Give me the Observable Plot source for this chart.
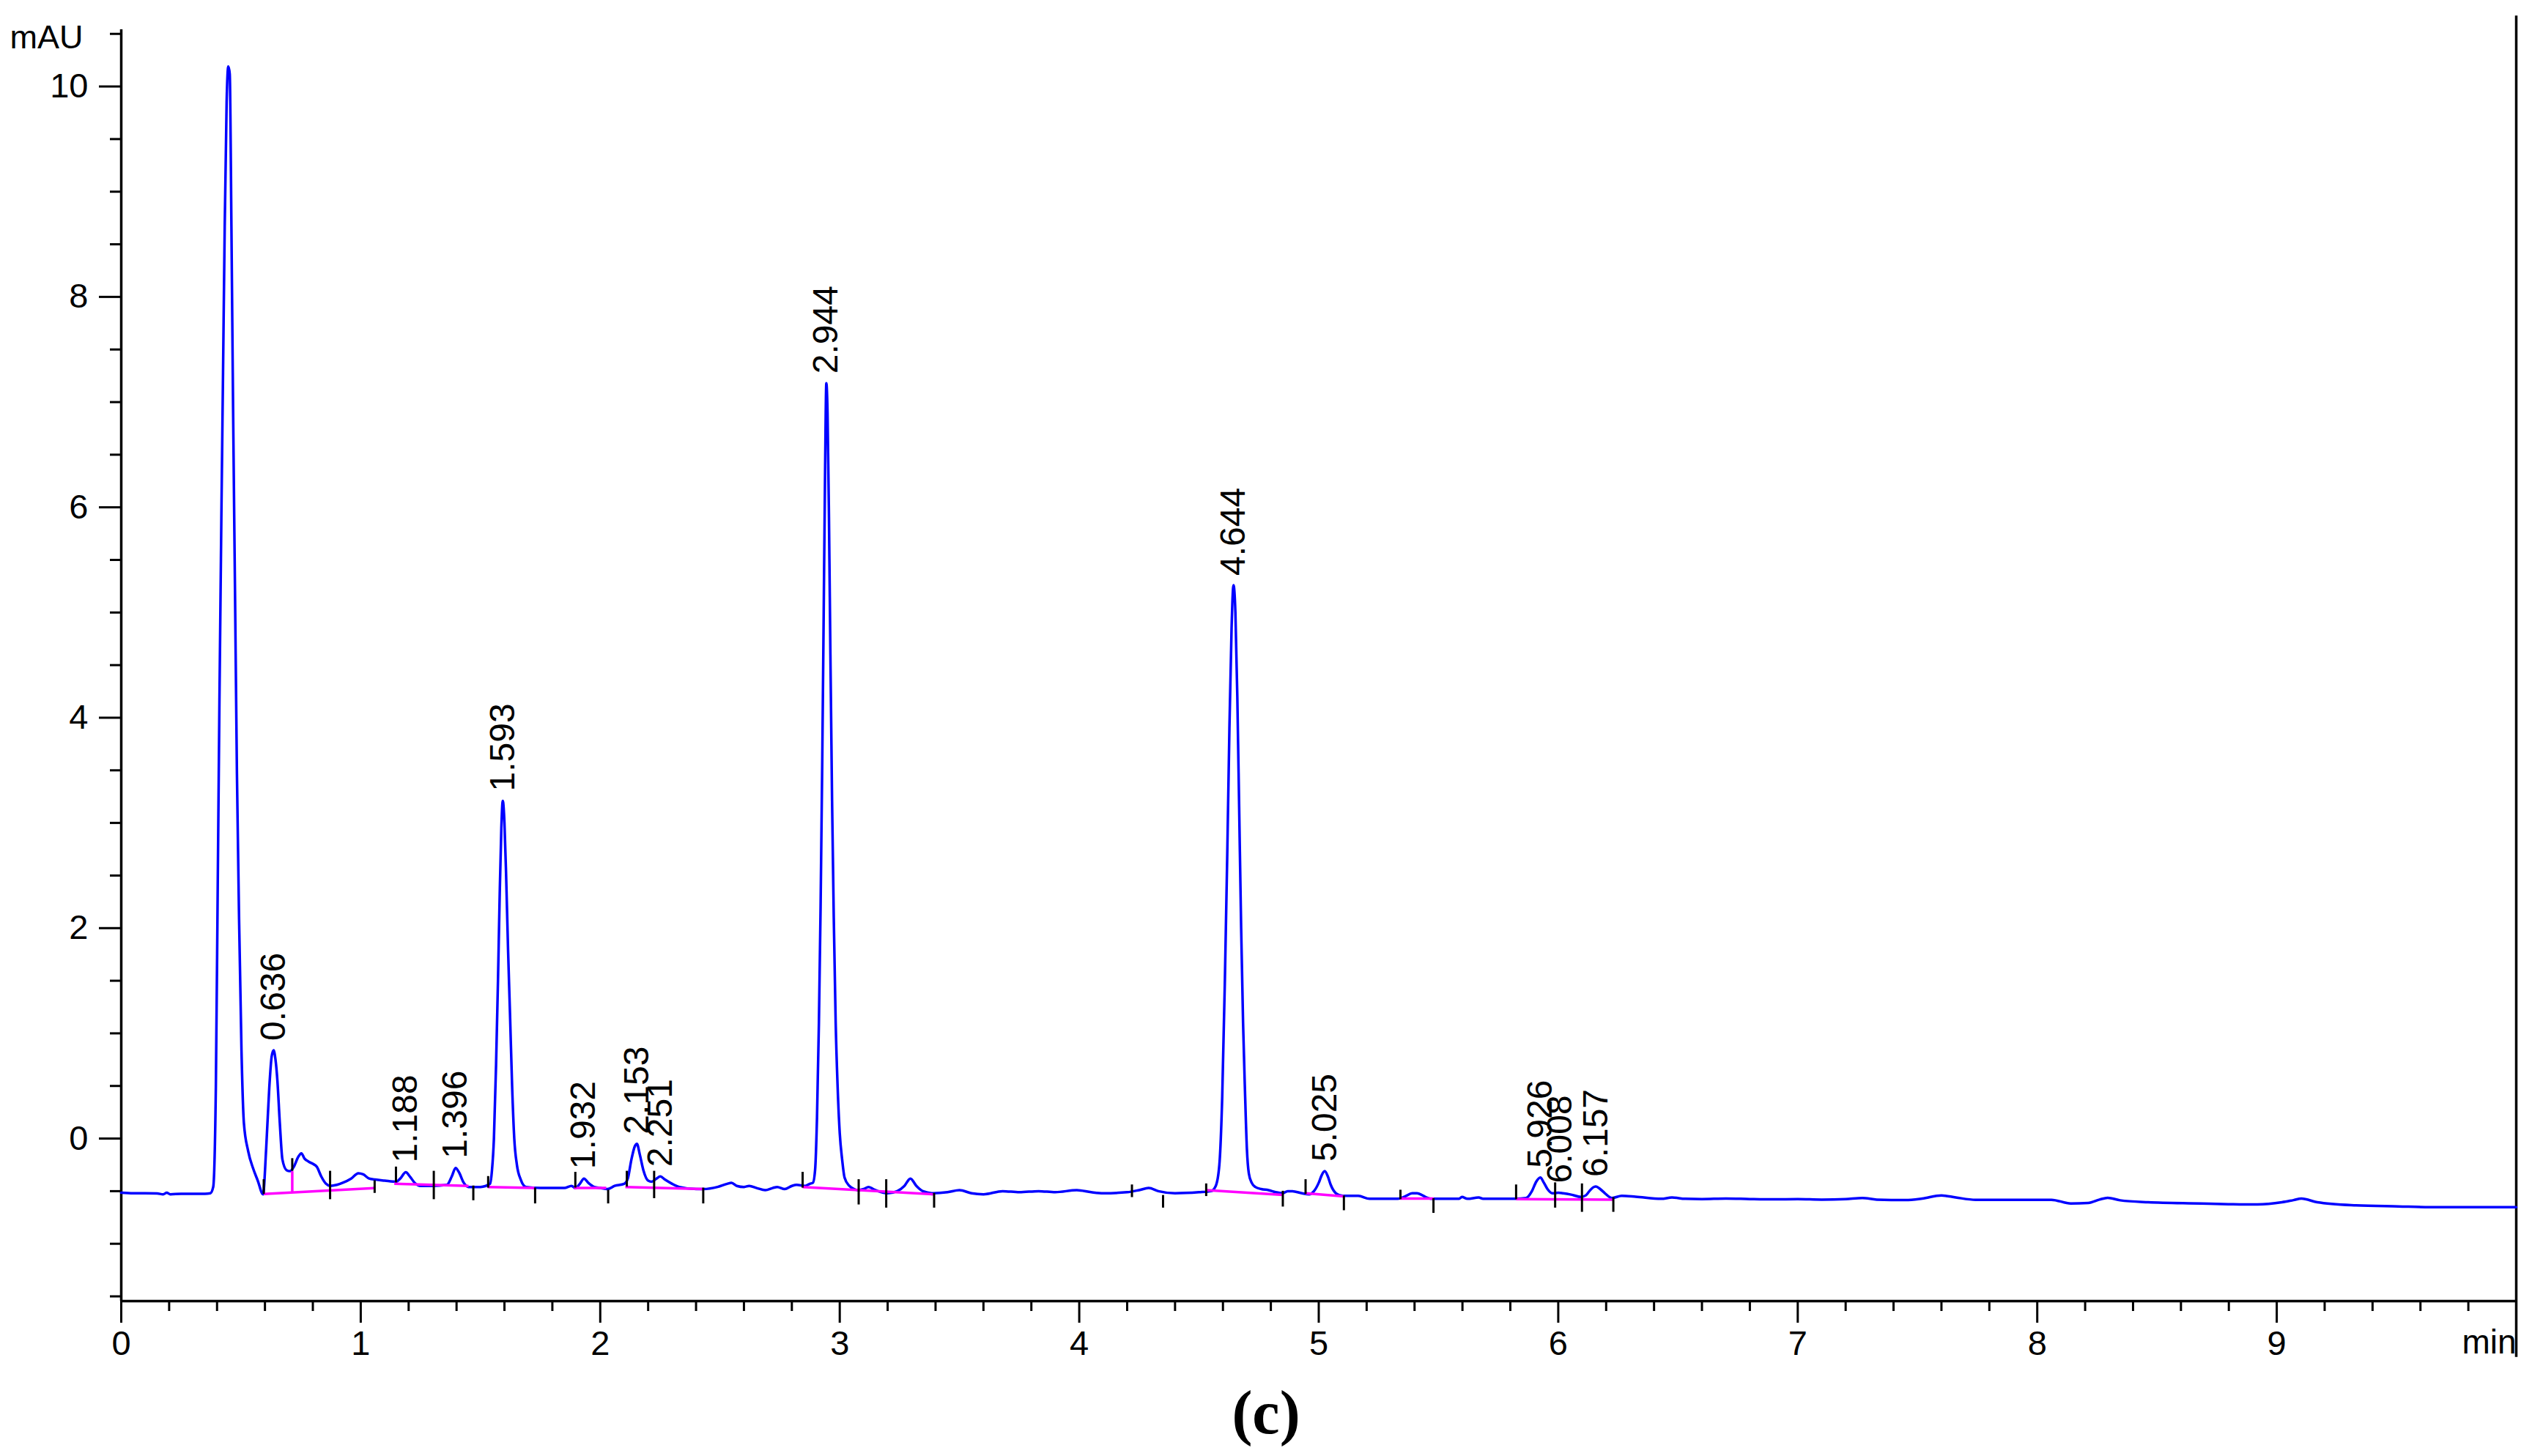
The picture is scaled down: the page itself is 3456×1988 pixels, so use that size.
<!DOCTYPE html>
<html><head><meta charset="utf-8">
<script src="https://cdn.jsdelivr.net/npm/d3@7"></script>
<script src="https://cdn.jsdelivr.net/npm/@observablehq/plot@0.6"></script>
<style>
html,body{margin:0;padding:0;background:#fff;}
#chart{width:3456px;height:1870px;}
#caption{width:3456px;height:118px;line-height:118px;text-align:center;font-family:"Liberation Serif","Times New Roman",serif;font-weight:bold;font-size:84px;color:#000;}
</style></head><body>
<div id="chart"></div>
<div id="caption">(c)</div>
<script>
// Chromatogram trace (time in min, signal in mAU)
const traceTime = [0,0.05,0.1,0.15,0.175,0.19,0.205,0.25,0.3,0.35,0.372,0.384,0.395,0.403,0.41,0.418,0.425,0.432,0.44,0.447,0.453,0.46,0.467,0.475,0.483,0.492,0.502,0.512,0.53,0.55,0.57,0.592,0.605,0.618,0.628,0.636,0.644,0.652,0.662,0.673,0.69,0.705,0.72,0.74,0.752,0.765,0.783,0.8,0.817,0.835,0.855,0.872,0.9,0.925,0.96,0.99,1.01,1.035,1.06,1.1,1.147,1.165,1.188,1.205,1.225,1.25,1.3,1.36,1.38,1.396,1.41,1.43,1.45,1.5,1.54,1.548,1.556,1.565,1.573,1.58,1.587,1.593,1.6,1.607,1.615,1.623,1.632,1.641,1.652,1.668,1.69,1.75,1.85,1.88,1.896,1.915,1.932,1.95,1.975,2.0,2.03,2.06,2.1,2.115,2.13,2.145,2.153,2.165,2.18,2.2,2.215,2.235,2.251,2.27,2.3,2.33,2.4,2.43,2.49,2.53,2.548,2.57,2.6,2.622,2.653,2.689,2.72,2.739,2.77,2.8,2.82,2.856,2.875,2.888,2.897,2.905,2.913,2.92,2.927,2.933,2.939,2.944,2.949,2.955,2.961,2.968,2.975,2.983,2.991,3.0,3.01,3.02,3.04,3.06,3.075,3.1,3.12,3.14,3.16,3.2,3.24,3.27,3.295,3.32,3.347,3.39,3.45,3.5,3.55,3.6,3.68,3.75,3.83,3.9,3.99,4.05,4.1,4.2,4.25,4.29,4.33,4.4,4.5,4.55,4.57,4.585,4.597,4.608,4.618,4.627,4.636,4.644,4.652,4.66,4.668,4.676,4.684,4.692,4.7,4.708,4.72,4.735,4.76,4.79,4.82,4.85,4.87,4.89,4.93,4.96,4.98,5.0,5.012,5.025,5.038,5.05,5.072,5.1,5.165,5.212,5.33,5.36,5.39,5.41,5.446,5.469,5.586,5.598,5.621,5.668,5.686,5.82,5.866,5.89,5.908,5.925,5.94,5.955,5.975,6.0,6.02,6.054,6.095,6.115,6.13,6.145,6.157,6.175,6.195,6.224,6.265,6.323,6.43,6.475,6.53,6.6,6.7,6.8,6.9,7.0,7.1,7.2,7.27,7.33,7.45,7.52,7.6,7.66,7.743,8.059,8.14,8.213,8.26,8.294,8.346,8.463,8.684,8.772,8.919,9.022,9.07,9.103,9.169,9.331,9.507,9.64,10.0];
const traceMAU = [-0.515,-0.52,-0.52,-0.522,-0.53,-0.515,-0.53,-0.525,-0.525,-0.525,-0.52,-0.46,0.49,2.44,4.17,5.9,7.28,8.67,9.85,10.19,10.12,8.67,6.93,5.2,3.47,2.08,0.84,0.15,-0.12,-0.28,-0.4,-0.53,-0.1,0.48,0.78,0.84,0.75,0.55,0.15,-0.2,-0.3,-0.31,-0.27,-0.17,-0.14,-0.19,-0.22,-0.24,-0.27,-0.36,-0.43,-0.45,-0.44,-0.42,-0.38,-0.33,-0.34,-0.38,-0.39,-0.4,-0.41,-0.38,-0.32,-0.36,-0.42,-0.45,-0.45,-0.44,-0.36,-0.28,-0.32,-0.42,-0.46,-0.46,-0.43,-0.3,0.0,0.7,1.5,2.3,2.95,3.21,3.0,2.5,1.8,1.2,0.5,0.0,-0.25,-0.39,-0.46,-0.47,-0.47,-0.45,-0.47,-0.43,-0.38,-0.42,-0.46,-0.47,-0.48,-0.45,-0.43,-0.38,-0.2,-0.07,-0.05,-0.15,-0.3,-0.4,-0.41,-0.38,-0.36,-0.39,-0.43,-0.46,-0.48,-0.48,-0.46,-0.43,-0.42,-0.45,-0.46,-0.45,-0.47,-0.49,-0.47,-0.46,-0.48,-0.45,-0.44,-0.45,-0.43,-0.42,-0.3,0.2,1.1,2.2,3.6,5.0,6.4,7.18,6.9,5.9,4.6,3.2,2.1,1.1,0.5,0.05,-0.2,-0.37,-0.45,-0.48,-0.49,-0.48,-0.46,-0.48,-0.5,-0.52,-0.5,-0.45,-0.38,-0.45,-0.5,-0.52,-0.51,-0.49,-0.52,-0.53,-0.5,-0.51,-0.5,-0.51,-0.49,-0.51,-0.52,-0.51,-0.49,-0.47,-0.5,-0.52,-0.51,-0.5,-0.45,-0.25,0.4,1.5,2.7,3.9,4.85,5.26,5.0,4.2,3.1,2.0,1.1,0.45,-0.1,-0.33,-0.42,-0.46,-0.48,-0.49,-0.51,-0.52,-0.5,-0.5,-0.52,-0.53,-0.5,-0.42,-0.35,-0.31,-0.36,-0.44,-0.52,-0.545,-0.545,-0.573,-0.573,-0.55,-0.52,-0.52,-0.555,-0.573,-0.573,-0.555,-0.573,-0.56,-0.573,-0.573,-0.565,-0.5,-0.41,-0.37,-0.42,-0.48,-0.52,-0.515,-0.52,-0.533,-0.555,-0.54,-0.5,-0.465,-0.456,-0.48,-0.52,-0.565,-0.545,-0.553,-0.573,-0.56,-0.573,-0.575,-0.57,-0.575,-0.578,-0.575,-0.58,-0.575,-0.565,-0.58,-0.585,-0.57,-0.54,-0.56,-0.582,-0.582,-0.617,-0.612,-0.58,-0.563,-0.587,-0.605,-0.617,-0.622,-0.626,-0.605,-0.585,-0.571,-0.605,-0.635,-0.645,-0.652,-0.652];

// Labelled peaks: retention time and apex height
const peakTimes   = [0.636,1.188,1.396,1.593,1.932,2.153,2.251,2.944,4.644,5.025,5.926,6.008,6.157];
const peakLabels  = ["0.636","1.188","1.396","1.593","1.932","2.153","2.251","2.944","4.644","5.025","5.926","6.008","6.157"];
const peakHeights = [0.84,-0.32,-0.28,3.21,-0.38,-0.05,-0.36,7.18,5.26,-0.31,-0.37,-0.515,-0.456];

// Integration baselines (start time, start mAU, end time, end mAU)
const baseT1 = [0.595,0.714,1.14,1.53,1.89,2.105,2.845,4.53,4.945,5.34,5.824];
const baseV1 = [-0.527,-0.51,-0.43,-0.46,-0.47,-0.46,-0.46,-0.49,-0.52,-0.57,-0.575];
const baseT2 = [1.058,0.714,1.45,1.725,2.025,2.43,3.39,4.85,5.105,5.48,6.23];
const baseV2 = [-0.47,-0.31,-0.45,-0.47,-0.47,-0.48,-0.53,-0.535,-0.55,-0.57,-0.58];

// Peak start/end event marks (time, low mAU, high mAU)
const eventTime = [0.595,0.714,0.872,1.058,1.147,1.305,1.47,1.532,1.728,1.896,2.033,2.111,2.225,2.43,2.845,3.079,3.194,3.394,4.22,4.35,4.53,4.85,4.945,5.105,5.341,5.479,5.824,5.987,6.099,6.23];
const eventLo   = [-0.53,-0.31,-0.58,-0.52,-0.42,-0.58,-0.59,-0.47,-0.62,-0.47,-0.62,-0.46,-0.57,-0.62,-0.47,-0.63,-0.66,-0.66,-0.56,-0.66,-0.55,-0.65,-0.53,-0.685,-0.58,-0.71,-0.58,-0.66,-0.70,-0.70];
const eventHi   = [-0.39,-0.19,-0.31,-0.40,-0.27,-0.31,-0.45,-0.36,-0.47,-0.32,-0.49,-0.31,-0.31,-0.47,-0.32,-0.39,-0.39,-0.52,-0.44,-0.54,-0.43,-0.50,-0.39,-0.545,-0.49,-0.57,-0.44,-0.42,-0.43,-0.56];

// Axis ticks
const xMajor = [0,1,2,3,4,5,6,7,8,9];
const xMinor = [0.2,0.4,0.6,0.8,1.2,1.4,1.6,1.8,2.2,2.4,2.6,2.8,3.2,3.4,3.6,3.8,4.2,4.4,4.6,4.8,5.2,5.4,5.6,5.8,6.2,6.4,6.6,6.8,7.2,7.4,7.6,7.8,8.2,8.4,8.6,8.8,9.2,9.4,9.6,9.8];
const yMajor = [0,2,4,6,8,10];
const yMinor = [-1.5,-1,-0.5,0.5,1,1.5,2.5,3,3.5,4.5,5,5.5,6.5,7,7.5,8.5,9,9.5,10.5];
const xDomain = [0,10];
const yDomain = [-1.545,10.54];

const trace = traceTime.map((t,i)=>({t, v: traceMAU[i]}));
const peaks = peakTimes.map((t,i)=>({t, h: peakHeights[i], label: peakLabels[i]}));
const bases = baseT1.map((t,i)=>({x1:t, y1:baseV1[i], x2:baseT2[i], y2:baseV2[i]}));
const events = eventTime.map((t,i)=>({t, lo:eventLo[i], hi:eventHi[i]}));

const font = "Liberation Sans, Arial, Helvetica, sans-serif";
const chart = Plot.plot({
  width: 3456, height: 1870,
  marginLeft: 165, marginRight: 22, marginTop: 40, marginBottom: 94,
  style: {fontFamily: font, fontSize: "46px", background: "white", color: "black", overflow: "visible"},
  x: {domain: xDomain},
  y: {domain: yDomain},
  marks: [
    Plot.axisY(yMajor, {tickSize: 30, tickPadding: 15, fontSize: 47, label: null, strokeWidth: 3, tickFormat: d => String(d)}),
    Plot.axisY(yMinor, {tickSize: 15, text: null, label: null, strokeWidth: 3}),
    Plot.axisX(xMajor, {tickSize: 30, tickPadding: 10, fontSize: 47, label: null, strokeWidth: 3, tickFormat: d => String(d)}),
    Plot.axisX(xMinor, {tickSize: 14, text: null, label: null, strokeWidth: 3}),
    Plot.ruleX([xDomain[0]], {y1: yDomain[0], y2: yDomain[1], stroke: "black", strokeWidth: 3.5}),
    Plot.ruleY([yDomain[0]], {x1: xDomain[0], x2: xDomain[1], stroke: "black", strokeWidth: 3.5}),
    Plot.ruleX([xDomain[1]], {y1: -2.08, y2: 10.67, stroke: "black", strokeWidth: 3.5}),
    Plot.line(trace, {x: "t", y: "v", stroke: "#0000ff", strokeWidth: 3.5, curve: "monotone-x"}),
    Plot.link(bases, {x1: "x1", y1: "y1", x2: "x2", y2: "y2", stroke: "#ff00ff", strokeWidth: 3.5}),
    Plot.ruleX(events, {x: "t", y1: "lo", y2: "hi", stroke: "black", strokeWidth: 3}),
    Plot.text(peaks, {x: "t", y: "h", text: "label", rotate: -90, textAnchor: "start", lineAnchor: "middle", dy: -13, fontSize: 48, fill: "black"}),
    Plot.text(["mAU"], {frameAnchor: "top-left", text: d => d, textAnchor: "start", lineAnchor: "bottom", dx: -152, dy: 25, fontSize: 45, fill: "black"}),
    Plot.text(["min"], {x: xDomain[1], frameAnchor: "bottom", text: d => d, textAnchor: "end", lineAnchor: "bottom", dy: 71, fontSize: 46, fill: "black"})
  ]
});
document.getElementById("chart").appendChild(chart);
</script>
</body></html>
